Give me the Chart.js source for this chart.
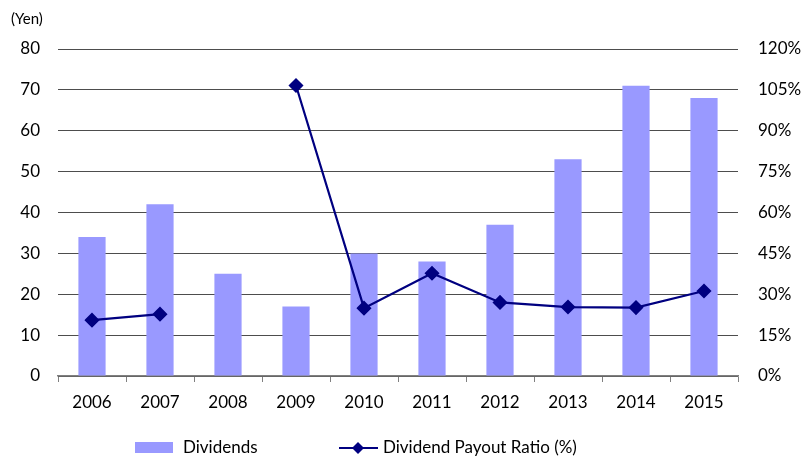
<!DOCTYPE html>
<html>
<head>
<meta charset="utf-8">
<script src="https://cdn.jsdelivr.net/npm/chart.js@4"></script>
<style>
  html, body { margin: 0; padding: 0; background: #fff; }
  #wrap { width: 807px; height: 457px; }
</style>
</head>
<body>
<div id="wrap"><canvas id="c" width="807" height="457"></canvas></div>
<script>
const years = ['2006', '2007', '2008', '2009', '2010', '2011', '2012', '2013', '2014', '2015'];
const dividends = [34, 42, 25, 17, 30, 28, 37, 53, 71, 68];
const payoutRatio = [20.5, 22.7, null, 106.6, 24.9, 37.7, 27.0, 25.3, 25.1, 31.2];
const yenTicks = [0, 10, 20, 30, 40, 50, 60, 70, 80];
const pctTicks = [0, 15, 30, 45, 60, 75, 90, 105, 120];

const FONT = 'Lato, "Open Sans", sans-serif';
const BAR_COLOR = '#9999ff';
const LINE_COLOR = '#000080';

// legend + "(Yen)" label drawn by hand so it matches the spreadsheet style
const extras = {
    id: 'extras',
    afterDraw(chart) {
        const ctx = chart.ctx;
        ctx.save();
        ctx.font = '15px ' + FONT;
        ctx.fillStyle = '#000';
        ctx.textBaseline = 'middle';
        ctx.textAlign = 'left';
        ctx.fillText('(Yen)', 11, 19);

        const y = 448;
        ctx.font = '17px ' + FONT;
        ctx.fillStyle = BAR_COLOR;
        ctx.fillRect(135, 442, 38, 11);
        ctx.fillStyle = '#000';
        ctx.fillText(chart.data.datasets[1].label, 183, y);

        ctx.strokeStyle = LINE_COLOR;
        ctx.lineWidth = 2;
        ctx.beginPath();
        ctx.moveTo(339, y);
        ctx.lineTo(378, y);
        ctx.stroke();
        ctx.fillStyle = LINE_COLOR;
        ctx.beginPath();
        ctx.moveTo(358, y - 6);
        ctx.lineTo(364, y);
        ctx.lineTo(358, y + 6);
        ctx.lineTo(352, y);
        ctx.closePath();
        ctx.fill();
        ctx.fillStyle = '#000';
        ctx.fillText(chart.data.datasets[0].label, 383, y);
        ctx.restore();
    }
};

new Chart(document.getElementById('c'), {
    type: 'bar',
    data: {
        labels: years,
        datasets: [
            {
                type: 'line',
                label: 'Dividend Payout Ratio (%)',
                data: payoutRatio,
                yAxisID: 'y2',
                borderColor: LINE_COLOR,
                backgroundColor: LINE_COLOR,
                borderWidth: 2.2,
                pointStyle: 'rectRot',
                pointRadius: 6,
                pointHoverRadius: 6,
                spanGaps: false,
                tension: 0,
                order: 0
            },
            {
                label: 'Dividends',
                data: dividends,
                yAxisID: 'y',
                backgroundColor: BAR_COLOR,
                categoryPercentage: 1,
                barPercentage: 0.4,
                order: 1
            }
        ]
    },
    options: {
        responsive: false,
        animation: false,
        layout: { padding: { top: 49, left: 0, right: 0, bottom: 41 } },
        plugins: {
            legend: { display: false },
            tooltip: { enabled: false }
        },
        scales: {
            x: {
                grid: { drawOnChartArea: false, drawTicks: true, tickLength: 6, color: '#808080', offset: true },
                border: { color: '#808080', width: 1.5 },
                ticks: { color: '#000', font: { family: FONT, size: 17 }, padding: 10 },
                afterFit(s) { s.height = 40; }
            },
            y: {
                position: 'left',
                min: 0,
                max: 80,
                afterBuildTicks(s) { s.ticks = yenTicks.map(v => ({ value: v })); },
                grid: { color: '#4d4d4d', drawTicks: false },
                border: { display: false },
                ticks: { color: '#000', font: { family: FONT, size: 17 }, padding: 18 },
                afterFit(s) { s.width = 58; }
            },
            y2: {
                position: 'right',
                min: 0,
                max: 120,
                afterBuildTicks(s) { s.ticks = pctTicks.map(v => ({ value: v })); },
                grid: { display: false, drawTicks: false },
                border: { display: false },
                ticks: {
                    color: '#000',
                    font: { family: FONT, size: 17 },
                    padding: 20,
                    callback: v => v + '%'
                },
                afterFit(s) { s.width = 69; }
            }
        }
    },
    plugins: [extras]
});
</script>
</body>
</html>
